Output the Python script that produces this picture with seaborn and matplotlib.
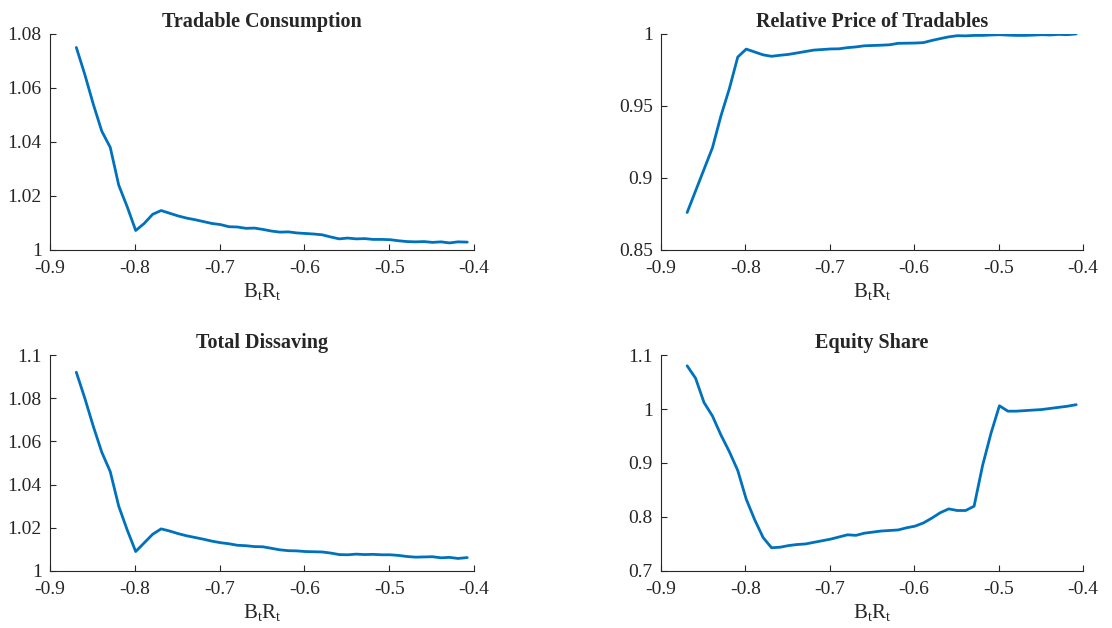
import numpy as np
import pandas as pd
import seaborn as sns
import matplotlib.pyplot as plt
from matplotlib.ticker import FuncFormatter

# grid of B_t R_t
bR = [-0.869, -0.859, -0.849, -0.839, -0.829, -0.819, -0.809, -0.799, -0.789, -0.779,
      -0.769, -0.759, -0.749, -0.739, -0.729, -0.719, -0.709, -0.699, -0.689, -0.679,
      -0.669, -0.659, -0.649, -0.639, -0.629, -0.619, -0.609, -0.599, -0.589, -0.579,
      -0.569, -0.559, -0.549, -0.539, -0.529, -0.519, -0.509, -0.499, -0.489, -0.479,
      -0.469, -0.459, -0.449, -0.439, -0.429, -0.419, -0.408]

trad_cons = [1.075, 1.065, 1.054, 1.044, 1.038, 1.024, 1.016, 1.0072, 1.0098, 1.0132,
             1.0146, 1.0136, 1.0126, 1.0118, 1.0112, 1.0105, 1.0098, 1.0094, 1.0086, 1.0085,
             1.0080, 1.0081, 1.0076, 1.0070, 1.0066, 1.0067, 1.0063, 1.0061, 1.0059, 1.0056,
             1.0048, 1.0041, 1.0044, 1.0041, 1.0042, 1.0039, 1.0039, 1.0038, 1.0034, 1.0031,
             1.0030, 1.0031, 1.0028, 1.0030, 1.0026, 1.0030, 1.0029]

rel_price = [0.876, 0.891, 0.906, 0.921, 0.943, 0.962, 0.984, 0.9895, 0.9875, 0.9855,
             0.9845, 0.9852, 0.9858, 0.9868, 0.9878, 0.9888, 0.9892, 0.9896, 0.9897, 0.9905,
             0.9910, 0.9918, 0.9920, 0.9922, 0.9925, 0.9935, 0.9936, 0.9937, 0.9940, 0.9955,
             0.9968, 0.9980, 0.9988, 0.9987, 0.9990, 0.9990, 0.9993, 0.9995, 0.9992, 0.9990,
             0.9990, 0.9992, 0.9995, 0.9993, 0.9997, 0.9995, 1.0000]

dissaving = [1.092, 1.080, 1.067, 1.055, 1.046, 1.030, 1.019, 1.009, 1.013, 1.017,
             1.0195, 1.0185, 1.0173, 1.0163, 1.0155, 1.0147, 1.0138, 1.0131, 1.0126, 1.0119,
             1.0117, 1.0113, 1.0112, 1.0105, 1.0098, 1.0094, 1.0093, 1.0090, 1.0089, 1.0088,
             1.0083, 1.0076, 1.0075, 1.0078, 1.0076, 1.0077, 1.0075, 1.0075, 1.0072, 1.0067,
             1.0064, 1.0065, 1.0066, 1.0061, 1.0063, 1.0058, 1.0062]

equity = [1.080, 1.057, 1.012, 0.987, 0.952, 0.921, 0.886, 0.833, 0.795, 0.762,
          0.743, 0.744, 0.747, 0.749, 0.750, 0.753, 0.756, 0.759, 0.763, 0.767,
          0.766, 0.770, 0.772, 0.774, 0.775, 0.776, 0.780, 0.783, 0.789, 0.798,
          0.808, 0.815, 0.812, 0.812, 0.820, 0.895, 0.955, 1.006, 0.996, 0.996,
          0.997, 0.998, 0.999, 1.001, 1.003, 1.005, 1.008]

titles = ["Tradable Consumption", "Relative Price of Tradables", "Total Dissaving", "Equity Share"]
ylims = [(1, 1.08), (0.85, 1), (1, 1.1), (0.7, 1.1)]
yticks = [[1, 1.02, 1.04, 1.06, 1.08], [0.85, 0.9, 0.95, 1],
          [1, 1.02, 1.04, 1.06, 1.08, 1.1], [0.7, 0.8, 0.9, 1, 1.1]]
xticks = [-0.9, -0.8, -0.7, -0.6, -0.5, -0.4]

sns.set_style("ticks")
plt.rcParams["font.family"] = ["Liberation Serif", "DejaVu Serif"]
plt.rcParams["mathtext.fontset"] = "custom"
plt.rcParams["mathtext.rm"] = "Liberation Serif"
plt.rcParams["mathtext.it"] = "Liberation Serif"
plt.rcParams["axes.unicode_minus"] = False

fig = plt.figure(figsize=(11.12, 6.28), dpi=100)
positions = [[0.045, 0.602, 0.3813, 0.3439], [0.5944, 0.602, 0.3795, 0.3439],
             [0.045, 0.0908, 0.3813, 0.3439], [0.5944, 0.0908, 0.3795, 0.3439]]
series = [trad_cons, rel_price, dissaving, equity]

fmt = FuncFormatter(lambda v, p: "%g" % round(v, 3))

for i in range(4):
    ax = fig.add_axes(positions[i])
    df = pd.DataFrame({"bR": bR, "val": series[i]})
    sns.lineplot(data=df, x="bR", y="val", ax=ax, color="#0072BD", linewidth=2.0)
    ax.set_xlim(-0.9, -0.4)
    ax.set_ylim(*ylims[i])
    ax.set_xticks(xticks)
    ax.set_yticks(yticks[i])
    ax.xaxis.set_major_formatter(fmt)
    ax.yaxis.set_major_formatter(fmt)
    ax.tick_params(direction="in", length=4, width=0.8, colors="#262626", labelsize=14)
    ax.tick_params(axis="x", pad=7)
    ax.tick_params(axis="y", pad=6)
    for s in ["top", "right"]:
        ax.spines[s].set_visible(False)
    for s in ["left", "bottom"]:
        ax.spines[s].set_color("#262626")
        ax.spines[s].set_linewidth(0.8)
    ax.set_title(titles[i], fontsize=14.5, fontweight="bold", pad=5)
    ax.set_xlabel(r"$\mathrm{B_t R_t}$", fontsize=15, labelpad=3)
    ax.set_ylabel("")

plt.savefig("out.png", dpi=100)
